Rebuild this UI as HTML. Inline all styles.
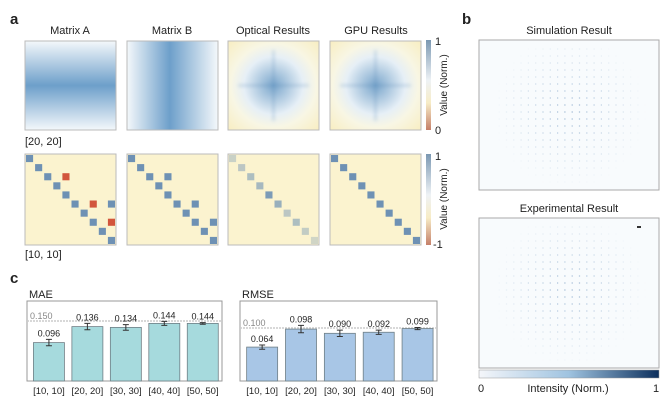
<!DOCTYPE html>
<html><head><meta charset="utf-8"><style>
body{margin:0;background:#fff;width:666px;height:400px;overflow:hidden}
text{font-family:"Liberation Sans",sans-serif;fill:#222}
</style></head><body>
<svg id="fig" width="666" height="400" viewBox="0 0 666 400">
<defs>
<linearGradient id="gA" x1="0" y1="0" x2="0" y2="1">
<stop offset="0" stop-color="#f4f8fb"/><stop offset="0.5" stop-color="#6d9fca"/><stop offset="1" stop-color="#f4f8fb"/></linearGradient>
<linearGradient id="gB" x1="0" y1="0" x2="1" y2="0">
<stop offset="0" stop-color="#f4f8fb"/><stop offset="0.47" stop-color="#6d9fca"/><stop offset="1" stop-color="#f4f8fb"/></linearGradient>
<radialGradient id="gR" cx="0.5" cy="0.5" r="0.72">
<stop offset="0" stop-color="#7aa6cc"/><stop offset="0.45" stop-color="#e6eff6"/><stop offset="0.65" stop-color="#f8f6e4"/><stop offset="1" stop-color="#f8edbf"/></radialGradient>
<linearGradient id="gCb" x1="0" y1="0" x2="0" y2="1">
<stop offset="0" stop-color="#7b98b2"/><stop offset="0.45" stop-color="#eef2f5"/><stop offset="0.7" stop-color="#f7ecc6"/><stop offset="1" stop-color="#c5806a"/></linearGradient>
<linearGradient id="gI" x1="0" y1="0" x2="1" y2="0">
<stop offset="0" stop-color="#f4f6fa"/><stop offset="0.5" stop-color="#9fc3e0"/><stop offset="1" stop-color="#0c2f5c"/></linearGradient>
<filter id="blur"><feGaussianBlur stdDeviation="1.5"/></filter>
</defs>

<text x="10" y="24" font-size="15" font-weight="bold">a</text>
<text x="70" y="34" font-size="11" text-anchor="middle">Matrix A</text>
<text x="172" y="34" font-size="11" text-anchor="middle">Matrix B</text>
<text x="273" y="34" font-size="11" text-anchor="middle">Optical Results</text>
<text x="376" y="34" font-size="11" text-anchor="middle">GPU Results</text>

<g><rect x="25" y="41" width="91" height="89" fill="url(#gA)" stroke="#bbb"/></g>
<g><rect x="127" y="41" width="91" height="89" fill="url(#gB)" stroke="#bbb"/></g>
<g><rect x="228" y="41" width="91" height="89" fill="url(#gR)" stroke="#bbb"/>
<g filter="url(#blur)" opacity="0.18"><rect x="272" y="50" width="3" height="71" fill="#4d80b0"/><rect x="238" y="84" width="71" height="3" fill="#4d80b0"/></g></g>
<g><rect x="330" y="41" width="91" height="89" fill="url(#gR)" stroke="#bbb"/>
<g filter="url(#blur)" opacity="0.18"><rect x="374" y="50" width="3" height="71" fill="#4d80b0"/><rect x="340" y="84" width="71" height="3" fill="#4d80b0"/></g></g>
<rect x="426" y="40" width="5" height="90" fill="url(#gCb)"/>
<text x="435" y="45" font-size="11">1</text>
<text x="435" y="134" font-size="11">0</text>
<text transform="translate(447,85) rotate(-90)" font-size="10" text-anchor="middle">Value (Norm.)</text>
<text x="25" y="145" font-size="11">[20, 20]</text>

<g id="row2"></g>
<rect x="426" y="154" width="5" height="91" fill="url(#gCb)"/>
<text x="435" y="160" font-size="11">1</text>
<text x="433" y="248" font-size="11">-1</text>
<text transform="translate(447,199) rotate(-90)" font-size="10" text-anchor="middle">Value (Norm.)</text>
<text x="25" y="258" font-size="11">[10, 10]</text>

<text x="10" y="283" font-size="15" font-weight="bold">c</text>
<text x="29" y="298" font-size="11">MAE</text>
<text x="242" y="298" font-size="11">RMSE</text>
<g id="charts"></g>

<text x="462" y="24" font-size="15" font-weight="bold">b</text>
<text x="569" y="34" font-size="11" text-anchor="middle">Simulation Result</text>
<rect x="479" y="40" width="180" height="150" fill="#f8fbfd" stroke="#aaa"/>
<text x="569" y="212" font-size="11" text-anchor="middle">Experimental Result</text>
<rect x="479" y="218" width="180" height="150" fill="#f8fbfd" stroke="#aaa"/>
<rect x="637" y="226" width="4" height="2" fill="#333"/>
<g id="dots"></g>
<rect x="479" y="370" width="180" height="8" fill="url(#gI)" stroke="#999" stroke-width="0.5"/>
<text x="481" y="392" font-size="11" text-anchor="middle">0</text>
<text x="568" y="392" font-size="11" text-anchor="middle">Intensity (Norm.)</text>
<text x="656" y="392" font-size="11" text-anchor="middle">1</text>
</svg>
<script>
const categories=["[10, 10]","[20, 20]","[30, 30]","[40, 40]","[50, 50]"];
const maeValues=[0.096,0.136,0.134,0.144,0.144];
const maeErr=[0.008,0.008,0.007,0.005,0.002];
const rmseValues=[0.064,0.098,0.090,0.092,0.099];
const rmseErr=[0.004,0.007,0.006,0.004,0.002];
const maeRef=0.150, rmseRef=0.100;
const matAExtras=[[2,4,-1],[5,7,-1],[7,9,-1],[5,9,1]];
const matBExtras=[[2,4,1],[5,7,1],[7,9,1]];
const opticalDiag=[0.35,0.45,0.55,0.6,0.9,0.7,0.45,0.55,0.4,0.3];
const gpuDiag=[1,1,1,1,1,1,1,1,1,1];

const NS="http://www.w3.org/2000/svg";
function mk(tag,attrs,parent){const e=document.createElementNS(NS,tag);for(const k in attrs)e.setAttribute(k,attrs[k]);parent.appendChild(e);return e;}
function colorOf(v){if(v>0){return `rgba(110,145,180,${v})`;}return `rgba(210,85,60,${-v})`;}

const row2=document.getElementById('row2');
function drawMat(x0,name,diag,extras){
  const g=mk('g',{},row2);
  
  
  mk('rect',{x:x0,y:154,width:91,height:91,fill:'#fbf3cf',stroke:'#bbb'},g);
  const c=9.1;
  diag.forEach((v,i)=>{const r=mk('rect',{x:x0+i*c+1,y:154+i*c+1,width:c-2,height:c-2,fill:colorOf(v)},g);
    
    });
  extras.forEach(([ri,ci,v])=>{const r=mk('rect',{x:x0+ci*c+1,y:154+ri*c+1,width:c-2,height:c-2,fill:colorOf(v)},g);
    
    });
}
drawMat(25,'matrix-a-10',gpuDiag,matAExtras);
drawMat(127,'matrix-b-10',gpuDiag,matBExtras);
drawMat(228,'optical-10',opticalDiag,[]);
drawMat(330,'gpu-10',gpuDiag,[]);

const charts=document.getElementById('charts');
function drawChart(name,x0,x1,yMax,vals,errs,ref,fill,decimals){
  const top=301,bot=381;
  const y=v=>bot-(v/yMax)*(bot-top);
  const band=(x1-x0)/5.07;
  const xc=i=>x0+band*0.57+i*band;
  const g=mk('g',{},charts);
  
  
  mk('rect',{x:x0,y:top,width:x1-x0,height:bot-top,fill:'#fff',stroke:'#999'},g);
  const l=mk('line',{x1:x0,x2:x1,y1:y(ref),y2:y(ref),stroke:'#ccc','stroke-width':1.5,'stroke-dasharray':'2,1'},g);
  
  
  const t=mk('text',{x:x0+3,y:y(ref)-2,'font-size':9,fill:'#888'},g);t.textContent=ref.toFixed(3);t.style.fill='#888';
  
  
  vals.forEach((v,i)=>{
    const b=mk('rect',{x:xc(i)-15.5,y:y(v),width:31,height:bot-y(v),fill:fill,stroke:'#6f7f86','stroke-width':0.8},g);
    
    
    const e=errs[i];
    mk('path',{d:`M${xc(i)} ${y(v+e)}V${y(v-e)}M${xc(i)-3} ${y(v+e)}h6M${xc(i)-3} ${y(v-e)}h6`,stroke:'#333','stroke-width':1,fill:'none'},g);
    const lb=mk('text',{x:xc(i),y:y(v+e)-3,'font-size':9,'text-anchor':'middle'},g);
    lb.textContent=v.toFixed(decimals);
    
    
    const tk=mk('text',{x:xc(i),y:394,'font-size':9.5,'text-anchor':'middle'},g);
    tk.textContent=categories[i];
    
    
  });
}
drawChart('mae-chart',27,222,0.2,maeValues,maeErr,maeRef,'#a6dadd',3);
drawChart('rmse-chart',240,437,0.151,rmseValues,rmseErr,rmseRef,'#a8c6e6',3);

const dots=document.getElementById('dots');
[[40],[218]].forEach(([y0])=>{
  for(let r=0;r<20;r++)for(let c=0;c<24;c++){
    const cx=484+c*7.3,cy=y0+8+r*7;
    const d=Math.hypot(cx-569,cy-(y0+70))/70;
    if(d<1.1){mk('rect',{x:cx,y:cy,width:1.2,height:2,fill:'#9db8d4',opacity:(1.1-d)*0.6},dots);}
  }
});
</script>
</body></html>
